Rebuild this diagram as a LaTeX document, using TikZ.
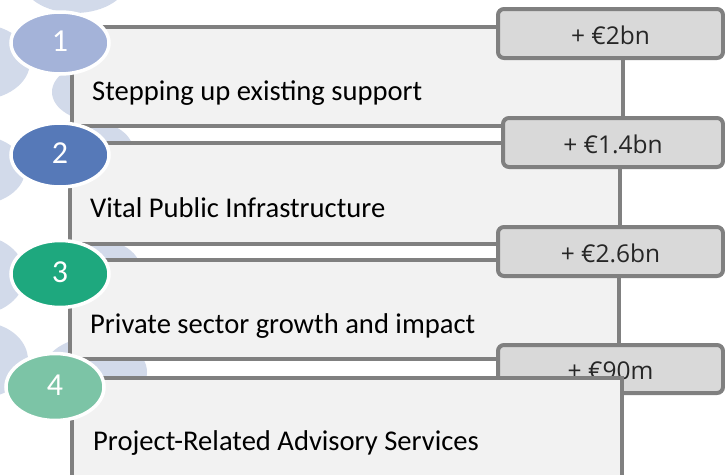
\documentclass[tikz,border=0pt]{standalone}
\usepackage{fontspec}
\setmainfont{Carlito}
\newfontfamily\boxfont{Open Sans}
\usetikzlibrary{shapes.geometric}
\definecolor{edge}{HTML}{808080}
\definecolor{panelfill}{HTML}{F2F2F2}
\definecolor{boxfill}{HTML}{D9D9D9}
\definecolor{pale}{HTML}{D2DAEA}
\definecolor{cone}{HTML}{A4B3D9}
\definecolor{ctwo}{HTML}{5679B8}
\definecolor{cthree}{HTML}{1EA87E}
\definecolor{cfour}{HTML}{7CC4A6}
\tikzset{
  panel/.style={draw=edge, fill=panelfill, line width=4pt, rectangle, inner sep=0pt},
  valbox/.style={draw=edge, fill=boxfill, line width=4pt, rounded corners=6pt, inner sep=0pt,
    minimum width=225pt, minimum height=49pt, text height=21pt, text depth=0pt,
    font=\boxfont\fontsize{24.5}{28}\selectfont, text=black!85},
  numcirc/.style={ellipse, draw=white, line width=3.5pt, inner sep=0pt, minimum width=98pt,
    text=white, font=\fontsize{32}{36}\selectfont, text height=16pt, text depth=0pt},
  paneltext/.style={anchor=base west, inner sep=0pt, font=\fontsize{28.6}{32}\selectfont, text=black}
}
\begin{document}
\begin{tikzpicture}[x=1pt,y=-1pt]
\useasboundingbox (0,0) rectangle (725,474);
\clip (0,0) rectangle (725,474);
% pale background ellipses
\fill[pale] (75,-22) ellipse [x radius=54pt, y radius=35pt];
\fill[pale] (-22,62) ellipse [x radius=52pt, y radius=38pt];
\fill[pale] (100,92) ellipse [x radius=48pt, y radius=30pt];
\fill[pale] (85,150) ellipse [x radius=48pt, y radius=30pt];
\fill[pale] (-25,170) ellipse [x radius=50pt, y radius=35pt];
\fill[pale] (90,268) ellipse [x radius=50pt, y radius=30pt];
\fill[pale] (-25,275) ellipse [x radius=50pt, y radius=40pt];
\fill[pale] (95,372) ellipse [x radius=52pt, y radius=35pt];
\fill[pale] (-20,360) ellipse [x radius=48pt, y radius=38pt];
% panels
\node[panel, minimum width=551pt, minimum height=99pt] (p1) at (347.5,76.5) {};
\node[panel, minimum width=550pt, minimum height=101pt] (p2) at (345,193.5) {};
\node[panel, minimum width=549pt, minimum height=99pt] (p3) at (344.5,309.5) {};
% value boxes
\node[valbox] (b1) at (610.5,33.5) {+ €2bn};
\node[valbox, minimum width=220pt] (b2) at (613,142.5) {+ €1.4bn};
\node[valbox] (b3) at (610.5,251.5) {+ €2.6bn};
\node[valbox, minimum height=48pt] (b4) at (610.5,369) {+ €90m};
% last panel over box 4
\node[panel, minimum width=550pt, minimum height=122pt] (p4) at (347,439) {};
% panel texts
\node[paneltext] (t1) at (92,100) {Stepping up existing support};
\node[paneltext] (t2) at (90,217) {Vital Public Infrastructure};
\node[paneltext] (t3) at (90,333) {Private sector growth and impact};
\node[paneltext] (t4) at (93,450) {Project-Related Advisory Services};
% numbered circles
\node[numcirc, fill=cone, minimum height=62pt] (c1) at (60,43) {1};
\node[numcirc, fill=ctwo, minimum height=64pt] (c2) at (60,155) {2};
\node[numcirc, fill=cthree, minimum height=67pt] (c3) at (60,274) {3};
\node[numcirc, fill=cfour, minimum height=67pt] (c4) at (55,387) {4};
\end{tikzpicture}
\end{document}
